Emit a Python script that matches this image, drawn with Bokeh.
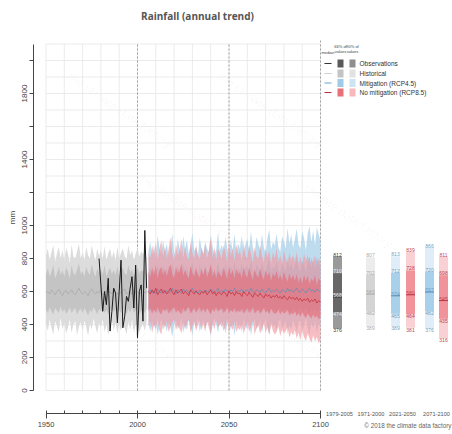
from bokeh.plotting import figure
from bokeh.models import Range1d, FixedTicker, Label
from bokeh.embed import file_html
from bokeh.resources import INLINE
from bokeh.core.properties import value

# ---------------- data ----------------
hist_years = list(range(1950, 2006))
obs_years = list(range(1979, 2006))
fut_years = list(range(2006, 2101))

obs_vals = [800, 640, 480, 600, 520, 680, 360, 480, 620, 590,
            410, 600, 790, 380, 450, 570, 540, 620, 690, 500,
            760, 320, 600, 640, 420, 970, 620]

hist_med = [590, 600, 585, 610, 595, 580, 600, 615, 590, 575,
            600, 605, 585, 595, 610, 590, 580, 600, 620, 595,
            585, 600, 590, 575, 605, 615, 595, 585, 600, 590,
            610, 580, 595, 605, 590, 600, 585, 610, 595, 580,
            600, 590, 605, 615, 585, 595, 600, 580, 610, 590,
            600, 585, 595, 605, 590, 600]
hist_u66 = [700, 740, 690, 720, 760, 680, 710, 750, 700, 730,
            690, 745, 720, 680, 760, 710, 700, 735, 770, 705,
            725, 690, 750, 715, 700, 765, 720, 690, 740, 710,
            735, 700, 760, 690, 720, 745, 705, 730, 700, 755,
            690, 725, 745, 710, 700, 760, 715, 735, 690, 720,
            750, 705, 730, 720, 745, 700]
hist_l66 = [490, 470, 505, 480, 460, 500, 485, 470, 510, 475,
            495, 465, 480, 505, 470, 490, 500, 460, 485, 495,
            470, 500, 480, 455, 490, 475, 505, 485, 460, 495,
            480, 505, 470, 490, 460, 485, 500, 475, 495, 465,
            490, 470, 500, 480, 465, 495, 475, 505, 470, 485,
            495, 465, 480, 490, 470, 500]
hist_u90 = [820, 860, 790, 840, 880, 780, 830, 870, 800, 850,
            790, 865, 830, 775, 885, 810, 800, 845, 890, 800,
            840, 790, 870, 820, 800, 880, 830, 785, 860, 815,
            850, 800, 875, 790, 830, 860, 805, 845, 790, 870,
            800, 835, 860, 815, 795, 880, 820, 850, 790, 830,
            865, 810, 845, 825, 860, 800]
hist_l90 = [400, 360, 430, 380, 340, 420, 390, 355, 440, 370,
            410, 345, 380, 430, 350, 400, 420, 335, 390, 415,
            360, 425, 385, 330, 405, 370, 435, 390, 345, 410,
            380, 430, 355, 400, 335, 390, 425, 365, 410, 345,
            400, 360, 425, 380, 340, 415, 370, 430, 355, 395,
            410, 350, 385, 400, 360, 420]

rcp85_med = [600, 585, 610, 590, 620, 580, 600, 615, 590, 605,
             585, 600, 620, 595, 580, 610, 590, 600, 615, 585,
             600, 590, 575, 610, 595, 585, 605, 590, 580, 600,
             590, 605, 580, 595, 610, 585, 600, 575, 595, 590,
             580, 600, 590, 570, 605, 585, 595, 575, 600, 585,
             590, 570, 600, 585, 575, 595, 580, 565, 590, 580,
             570, 590, 575, 560, 585, 570, 580, 560, 575, 565,
             580, 560, 570, 555, 575, 560, 550, 570, 555, 565,
             550, 565, 545, 560, 540, 555, 545, 560, 535, 550,
             540, 555, 530, 545, 535]
rcp85_u66 = [720, 690, 745, 700, 760, 680, 730, 750, 700, 735,
             690, 740, 765, 705, 680, 750, 710, 725, 770, 695,
             730, 700, 680, 755, 715, 690, 745, 705, 685, 740,
             700, 750, 685, 720, 760, 690, 735, 680, 725, 705,
             690, 745, 710, 675, 755, 700, 730, 680, 740, 705,
             720, 680, 750, 700, 685, 745, 705, 670, 735, 700,
             685, 740, 700, 670, 730, 690, 720, 665, 710, 690,
             725, 675, 700, 665, 720, 685, 660, 710, 675, 700,
             665, 705, 655, 690, 650, 700, 665, 695, 645, 680,
             660, 700, 640, 680, 665]
rcp85_l66 = [480, 500, 465, 490, 470, 505, 475, 460, 495, 480,
             500, 465, 480, 495, 505, 470, 490, 475, 460, 500,
             475, 495, 505, 465, 485, 500, 470, 490, 505, 475,
             495, 470, 500, 480, 460, 495, 475, 505, 480, 490,
             500, 470, 485, 505, 465, 490, 475, 500, 470, 485,
             475, 495, 465, 480, 500, 470, 485, 505, 465, 480,
             490, 465, 480, 500, 470, 485, 460, 495, 475, 465,
             470, 490, 460, 480, 465, 475, 490, 455, 470, 460,
             480, 450, 470, 445, 475, 455, 440, 465, 450, 435,
             460, 440, 455, 430, 445]
rcp85_u90 = [840, 800, 880, 820, 900, 790, 860, 910, 810, 870,
             800, 860, 930, 830, 790, 890, 820, 850, 920, 805,
             870, 815, 790, 900, 835, 800, 880, 825, 795, 865,
             820, 890, 800, 850, 920, 805, 870, 790, 860, 830,
             800, 880, 840, 780, 910, 815, 860, 790, 885, 825,
             850, 790, 900, 820, 800, 880, 830, 775, 870, 815,
             795, 880, 820, 775, 860, 805, 850, 770, 840, 800,
             860, 780, 820, 770, 850, 795, 765, 835, 790, 820,
             780, 840, 770, 810, 760, 830, 785, 820, 755, 800,
             775, 825, 750, 800, 780]
rcp85_l90 = [390, 420, 350, 400, 370, 430, 360, 340, 410, 380,
             420, 355, 385, 410, 430, 365, 400, 375, 345, 415,
             370, 405, 430, 350, 390, 420, 360, 395, 425, 365,
             405, 355, 420, 380, 340, 410, 370, 425, 385, 395,
             415, 360, 385, 430, 350, 400, 365, 420, 355, 380,
             365, 405, 345, 380, 415, 355, 390, 425, 340, 375,
             395, 345, 375, 410, 350, 385, 335, 400, 360, 340,
             355, 390, 330, 370, 345, 360, 385, 320, 355, 335,
             365, 315, 350, 305, 360, 325, 300, 345, 315, 290,
             335, 300, 325, 285, 310]

rcp45_med = [595, 610, 590, 605, 585, 615, 600, 590, 610, 595,
             605, 590, 600, 620, 595, 585, 610, 600, 590, 615,
             600, 610, 590, 605, 620, 595, 600, 585, 610, 600,
             590, 610, 600, 595, 615, 605, 590, 600, 620, 595,
             605, 595, 615, 600, 590, 610, 600, 620, 595, 605,
             600, 615, 590, 605, 610, 595, 620, 600, 590, 610,
             605, 595, 615, 600, 590, 610, 620, 595, 605, 600,
             615, 600, 590, 610, 605, 595, 620, 600, 610, 595,
             605, 620, 600, 595, 615, 605, 590, 610, 620, 600,
             610, 595, 615, 605, 600]
rcp45_u66 = [710, 750, 700, 740, 690, 765, 720, 700, 755, 715,
             745, 700, 730, 775, 710, 695, 760, 725, 705, 770,
             720, 755, 700, 740, 780, 715, 730, 695, 760, 725,
             700, 750, 725, 710, 770, 735, 700, 720, 785, 715,
             740, 710, 770, 725, 700, 755, 720, 780, 710, 745,
             725, 770, 705, 745, 760, 715, 790, 730, 705, 765,
             745, 720, 775, 730, 705, 765, 795, 720, 750, 735,
             780, 730, 710, 770, 750, 720, 800, 740, 775, 725,
             755, 800, 735, 720, 790, 760, 715, 780, 810, 745,
             790, 735, 805, 770, 750]
rcp45_l66 = [490, 470, 505, 480, 500, 465, 490, 510, 475, 495,
             470, 500, 485, 460, 495, 505, 475, 490, 510, 470,
             495, 475, 505, 485, 465, 500, 480, 510, 470, 490,
             505, 480, 495, 500, 465, 485, 510, 490, 470, 500,
             480, 500, 470, 490, 505, 475, 495, 465, 500, 480,
             495, 470, 505, 485, 475, 500, 465, 490, 505, 480,
             485, 500, 470, 495, 505, 480, 465, 500, 485, 490,
             470, 495, 505, 480, 490, 500, 465, 485, 475, 500,
             490, 470, 495, 500, 475, 485, 505, 480, 465, 495,
             480, 500, 470, 490, 485]
rcp45_u90 = [850, 900, 820, 880, 800, 940, 860, 830, 910, 845,
             890, 820, 870, 950, 840, 810, 920, 860, 830, 935,
             860, 910, 830, 880, 955, 845, 870, 815, 925, 865,
             830, 900, 860, 840, 945, 875, 820, 855, 960, 845,
             885, 840, 930, 865, 825, 910, 850, 950, 835, 890,
             860, 940, 830, 885, 920, 845, 965, 870, 825, 930,
             890, 850, 945, 870, 830, 925, 975, 855, 900, 880,
             950, 870, 840, 935, 905, 860, 985, 890, 945, 865,
             920, 980, 885, 860, 965, 925, 850, 955, 995, 900,
             970, 880, 990, 945, 910]
rcp45_l90 = [400, 360, 420, 380, 410, 340, 395, 430, 365, 405,
             355, 415, 385, 325, 400, 425, 370, 395, 435, 350,
             405, 365, 430, 390, 335, 415, 380, 440, 355, 400,
             425, 375, 410, 420, 330, 390, 440, 400, 350, 415,
             380, 420, 345, 395, 430, 365, 410, 330, 425, 385,
             410, 355, 435, 390, 370, 420, 335, 400, 430, 375,
             395, 425, 350, 405, 435, 380, 340, 415, 390, 400,
             360, 410, 435, 375, 400, 420, 345, 395, 370, 425,
             400, 355, 415, 425, 365, 390, 440, 380, 340, 410,
             375, 420, 350, 400, 390]

# box summaries: [p5, p17, median, p83, p95]
period_labels = ["1979-2005", "1971-2000", "2021-2050", "2071-2100"]
box_obs = [376, 474, 568, 710, 812]
box_hist = [389, 482, 583, 702, 807]
box_rcp45_2021 = [389, 465, 574, 712, 813]
box_rcp85_2021 = [381, 464, 580, 728, 839]
box_rcp45_2071 = [376, 482, 597, 720, 866]
box_rcp85_2071 = [316, 435, 545, 698, 811]

legend_labels = ["Observations", "Historical", "Mitigation (RCP4.5)", "No mitigation (RCP8.5)"]

# ---------------- styling ----------------
GREY_OUT, GREY_IN, GREY_MED = "#dcdcdc", "#c4c4c4", "#aaaaaa"
BLUE_OUT, BLUE_IN, BLUE_MED = "#a9d0ea", "#7fb8e0", "#5b8fb8"
RED_OUT, RED_IN, RED_MED = "#f19aa2", "#e5606c", "#c8323f"
FONT = value("Liberation Sans")


def X(px):
    return 1950 + (px - 45.5) / 1.83


def Y(py):
    return (390 - py) / 0.165


PXW = 1 / 1.83     # years per pixel
PXH = 1 / 0.165    # mm per pixel

p = figure(width=452, height=434,
           x_range=Range1d(X(33), X(452)), y_range=Range1d(Y(434), Y(0)),
           output_backend="svg", toolbar_location=None,
           min_border_left=33, min_border_right=0, min_border_top=0, min_border_bottom=0)
p.outline_line_color = None
p.xgrid.visible = False
p.ygrid.visible = False
p.background_fill_color = "white"

# axes
p.yaxis.ticker = FixedTicker(ticks=[0, 200, 400, 600, 800, 1000, 1400, 1800],
                             minor_ticks=[1200, 1600, 2000])
p.yaxis.bounds = (0, 2100)
p.yaxis.major_label_orientation = "vertical"
p.yaxis.major_tick_out = 4
p.yaxis.major_tick_in = 0
p.yaxis.minor_tick_out = 4
p.yaxis.minor_tick_in = 0
p.yaxis.major_label_standoff = 3
p.yaxis.axis_label = "mm"
p.yaxis.axis_label_text_font_style = "normal"
p.yaxis.axis_label_text_font_size = "8px"
p.yaxis.axis_label_standoff = 2

p.xaxis.fixed_location = Y(413)
p.xaxis.ticker = FixedTicker(ticks=[1950, 2000, 2050, 2100],
                             minor_ticks=[y for y in range(1960, 2100, 10) if y not in (2000, 2050)])
p.xaxis.bounds = (1950, 2100)
p.xaxis.major_tick_out = 5
p.xaxis.major_tick_in = 3
p.xaxis.minor_tick_out = 0
p.xaxis.minor_tick_in = 3
p.xaxis.major_label_standoff = 3

for ax in (p.xaxis[0], p.yaxis[0]):
    ax.axis_line_color = "#444444"
    ax.major_tick_line_color = "#444444"
    ax.minor_tick_line_color = "#444444"
    ax.major_label_text_font = "Liberation Sans"
    ax.major_label_text_color = "#444444"
    ax.axis_label_text_font = "Liberation Sans"
    ax.axis_label_text_color = "#444444"
p.yaxis.major_label_text_font_size = "8px"
p.xaxis.major_label_text_font_size = "7.5px"

# faint watermark (kept well inside the frame)
wm_x = [120, 270, 190, 340, 120, 270]
wm_y = [110, 110, 210, 210, 320, 320]
p.text(x=[X(v) for v in wm_x], y=[Y(v) for v in wm_y], text=["the climate data factory"] * len(wm_x),
       angle=-0.6, text_font=FONT, text_font_size="12px", text_color="#000000", text_alpha=0.04,
       text_align="center", text_baseline="middle")

# grid
gx = list(range(1950, 2101, 10))
p.segment(x0=gx, y0=[0] * len(gx), x1=gx, y1=[2100] * len(gx), line_color="#e6e6e6", line_width=0.8)
gy = list(range(0, 2101, 100))
p.segment(x0=[1950] * len(gy), y0=gy, x1=[2100] * len(gy), y1=gy, line_color="#e6e6e6", line_width=0.8)
dx = [2000, 2050, 2100]
p.segment(x0=dx, y0=[0, 0, 0], x1=dx, y1=[2100, 2100, Y(40)], line_color="#8a8a8a",
          line_width=0.8, line_dash="2 2")

# historical
p.varea(x=hist_years, y1=hist_l90, y2=hist_u90, fill_color=GREY_OUT, fill_alpha=1)
p.varea(x=hist_years, y1=hist_l66, y2=hist_u66, fill_color=GREY_IN, fill_alpha=1)
p.line(hist_years, hist_med, line_color=GREY_MED, line_width=0.8)

# RCP4.5
p.varea(x=fut_years, y1=rcp45_l90, y2=rcp45_u90, fill_color=BLUE_OUT, fill_alpha=0.75)
p.varea(x=fut_years, y1=rcp45_l66, y2=rcp45_u66, fill_color=BLUE_IN, fill_alpha=0.6)
# RCP8.5
p.varea(x=fut_years, y1=rcp85_l90, y2=rcp85_u90, fill_color=RED_OUT, fill_alpha=0.65)
p.varea(x=fut_years, y1=rcp85_l66, y2=rcp85_u66, fill_color=RED_IN, fill_alpha=0.55)
p.line(fut_years, rcp45_med, line_color=BLUE_MED, line_width=0.8, line_alpha=0.9)
p.line(fut_years, rcp85_med, line_color=RED_MED, line_width=0.8)

# observations
p.line(obs_years, obs_vals, line_color="#1a1a1a", line_width=1)

# title
p.text(x=[X(197)], y=[Y(15)], text=["Rainfall (annual trend)"], text_align="center", text_baseline="middle",
       text_font=value("Open Sans"), text_font_style="bold", text_font_size="10px", text_color="#555555")

# legend
rows_y = [63, 73, 82.5, 92]
leg_line = ["#333333", "#cfcfcf", "#6aa6cf", "#b8303c"]
leg_b66 = ["#5a5a5a", "#c4c4c4", "#9fcbe8", "#ea7078"]
leg_b90 = ["#8e8e8e", "#e2e2e2", "#cfe4f3", "#f6b8bc"]
p.segment(x0=[X(324)] * 4, x1=[X(331)] * 4, y0=[Y(v) for v in rows_y], y1=[Y(v) for v in rows_y],
          line_color=leg_line, line_width=1.2)
p.rect(x=[X(340)] * 4, y=[Y(v) for v in rows_y], width=6 * PXW, height=8 * PXH,
       fill_color=leg_b66, line_color=None)
p.rect(x=[X(352)] * 4, y=[Y(v) for v in rows_y], width=6 * PXW, height=8 * PXH,
       fill_color=leg_b90, line_color=None)
p.text(x=[X(359)] * 4, y=[Y(v) for v in rows_y], text=legend_labels, text_align="left", text_baseline="middle",
       text_font=FONT, text_font_size="6.5px", text_color="#333333")
p.text(x=[X(327.5), X(340), X(340), X(352), X(352)], y=[Y(52), Y(46), Y(51), Y(46), Y(51)],
       text=["median", "66% of", "values", "90% of", "values"], text_align="center", text_baseline="middle",
       text_font=FONT, text_font_size="4px", text_color="#444444")

# box panel
boxes = [
    (337, box_obs, "#9a9a9a", "#676767", "#111111", ["#333333", "#eeeeee", "#ffffff", "#eeeeee", "#333333"]),
    (370, box_hist, "#ececec", "#d4d4d4", "#b4b4b4", ["#aaaaaa"] * 5),
    (395, box_rcp45_2021, "#deedf7", "#a9d0ea", "#4f86b3", ["#6e9fc6"] * 5),
    (410, box_rcp85_2021, "#f9d0d3", "#f0939a", "#b8303c", ["#c4434f"] * 5),
    (429, box_rcp45_2071, "#deedf7", "#a9d0ea", "#4f86b3", ["#6e9fc6"] * 5),
    (443, box_rcp85_2071, "#f9d0d3", "#f0939a", "#b8303c", ["#c4434f"] * 5),
]
for cx, st, c_out, c_in, c_med, c_lab in boxes:
    xc = X(cx)
    p.vbar(x=[xc], width=9 * PXW, bottom=[st[0]], top=[st[4]], fill_color=c_out, line_color=None)
    p.vbar(x=[xc], width=9 * PXW, bottom=[st[1]], top=[st[3]], fill_color=c_in, line_color=None)
    p.segment(x0=[xc - 4.5 * PXW], x1=[xc + 4.5 * PXW], y0=[st[2]], y1=[st[2]], line_color=c_med, line_width=1)
    for k, base in zip(range(5), ["top", "top", "bottom", "bottom", "bottom"]):
        p.text(x=[xc], y=[st[k]], text=[str(st[k])], text_align="center", text_baseline=base,
               text_font=FONT, text_font_size="5px", text_color=c_lab[k])

for cx, lab in zip([339, 370.5, 402, 436], period_labels):
    p.add_layout(Label(x=X(cx), y=Y(413), text=lab, text_align="center", text_baseline="middle",
                       text_font="Liberation Sans", text_font_size="5.6px", text_color="#555555"))

p.add_layout(Label(x=X(451), y=Y(425), text="\u00a9 2018 the climate data factory", text_align="right",
                   text_baseline="middle", text_font="Liberation Sans", text_font_size="6.3px",
                   text_color="#666666"))

open("out.html", "w").write(file_html(p, INLINE))
